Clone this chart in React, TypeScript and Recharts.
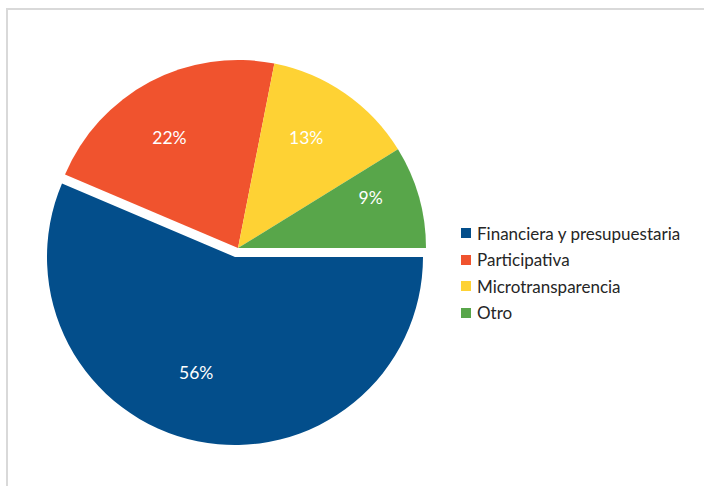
import React from 'react';
import { PieChart, Pie, Cell, Legend } from 'recharts';

// categories and shares (percent)
const categories = ['Financiera y presupuestaria', 'Participativa', 'Microtransparencia', 'Otro'];
const shares = [56.4, 21.7, 13.1, 8.8];
const colors = ['#034E8B', '#F0532E', '#FED234', '#58A64A'];

const data = categories.map((name, i) => ({ name, value: shares[i] }));

// Excel "best fit" labels sit a little off the mid angle
const labelAngleShift = [-7, 4, 3, 5];
const labelRadius = [0.65, 0.69, 0.69, 0.755];

const RAD = Math.PI / 180;
const FONT = 'Lato, "Open Sans", sans-serif';

const makeLabel = (show: (i: number) => boolean) => (props: any) => {
    const { cx, cy, midAngle, outerRadius, percent, index } = props;
    if (!show(index)) return null;
    const r = outerRadius * labelRadius[index];
    const a = midAngle + labelAngleShift[index];
    const x = cx + r * Math.cos(-a * RAD);
    const y = cy + r * Math.sin(-a * RAD);
    return (
        <text
            x={x}
            y={y}
            fill="#ffffff"
            fontSize={17.5}
            fontFamily={FONT}
            textAnchor="middle"
            dominantBaseline="central"
        >
            {`${Math.round(percent * 100)}%`}
        </text>
    );
};

const LegendContent = () => (
    <div style={{ fontFamily: FONT, fontSize: 17, color: '#262626' }}>
        {categories.map((name, i) => (
            <div key={name} style={{ display: 'flex', alignItems: 'center', height: 26.5 }}>
                <span
                    style={{
                        display: 'inline-block',
                        width: 10,
                        height: 10,
                        background: colors[i],
                        marginRight: 6,
                    }}
                />
                <span>{name}</span>
            </div>
        ))}
    </div>
);

export default function App() {
    return (
        <div style={{ position: 'fixed', left: 0, top: 0, width: 704, height: 486, background: '#fff', overflow: 'hidden' }}>
            <div
                style={{
                    position: 'absolute',
                    left: 6,
                    top: 8,
                    width: 720,
                    height: 500,
                    border: '2px solid #d9d9d9',
                    boxSizing: 'border-box',
                }}
            />
            <div style={{ position: 'absolute', left: 0, top: 0 }}>
                <PieChart width={704} height={486} margin={{ top: 0, right: 0, bottom: 0, left: 0 }}>
                    {/* exploded slice */}
                    <Pie
                        data={data}
                        dataKey="value"
                        cx={235}
                        cy={257}
                        outerRadius={188}
                        startAngle={0}
                        endAngle={-360}
                        stroke="none"
                        labelLine={false}
                        label={makeLabel((i) => i === 0)}
                        isAnimationActive={false}
                    >
                        {data.map((d, i) => (
                            <Cell key={d.name} fill={i === 0 ? colors[i] : 'none'} stroke="none" />
                        ))}
                    </Pie>
                    <Pie
                        data={data}
                        dataKey="value"
                        cx={238}
                        cy={248}
                        outerRadius={188}
                        startAngle={0}
                        endAngle={-360}
                        stroke="none"
                        labelLine={false}
                        label={makeLabel((i) => i !== 0)}
                        isAnimationActive={false}
                    >
                        {data.map((d, i) => (
                            <Cell key={d.name} fill={i === 0 ? 'none' : colors[i]} stroke="none" />
                        ))}
                    </Pie>
                    <Legend
                        content={<LegendContent />}
                        layout="vertical"
                        wrapperStyle={{ left: 461, top: 220, width: 240 }}
                    />
                </PieChart>
            </div>
        </div>
    );
}
